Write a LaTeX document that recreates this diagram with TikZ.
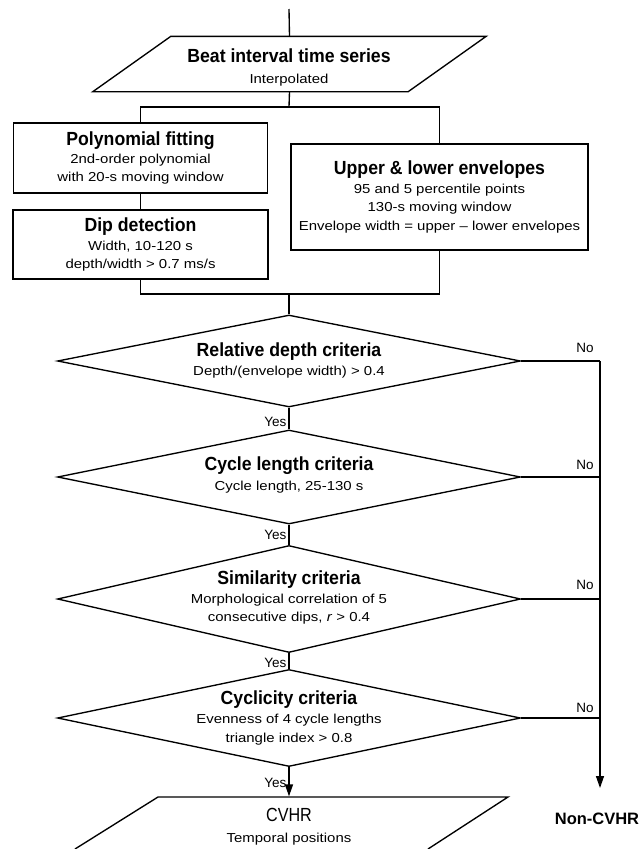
\documentclass[tikz,border=0pt]{standalone}
\usepackage{fontspec}
\setmainfont{Liberation Sans}
\newfontfamily\subfont[FakeStretch=1.15]{Liberation Sans}
\newfontfamily\ttlfont[FakeStretch=0.93]{Liberation Sans}
\newfontfamily\cvfont[FakeStretch=0.85]{Liberation Sans}
\usetikzlibrary{shapes.geometric,arrows.meta}
\begin{document}
\begin{tikzpicture}[x=1pt,y=-1pt,line width=1.35pt,
  ttl/.style={font=\ttlfont\bfseries\fontsize{19}{21}\selectfont,inner sep=0pt},
  sub/.style={font=\subfont\fontsize{13}{15}\selectfont,inner sep=0pt},
  box/.style={draw,rectangle,inner sep=0pt},
  dia/.style={draw,diamond,inner sep=0pt,minimum width=463pt},
  ghost/.style={rectangle,inner sep=0pt},
  lbl/.style={font=\fontsize{13.5}{15}\selectfont,inner sep=0pt},
  tip/.style={-{Triangle[width=8pt,length=12pt]}}]
\fill[white] (0,0) rectangle (640,849);
\useasboundingbox (0,0) rectangle (640,849);

% input parallelogram
\coordinate (top) at (289,9);
\node[ghost,minimum width=314pt,minimum height=54pt] (beat) at (289.5,64) {};
\draw ([xshift=39pt]beat.north west) -- ([xshift=39pt]beat.north east)
   -- ([xshift=-39pt]beat.south east) -- ([xshift=-39pt]beat.south west) -- cycle;
\node[ttl] (beatT) at (289,56) {Beat interval time series};
\node[sub] (beatS) at (289,80) {Interpolated};

% boxes
\node[box,minimum width=254pt,minimum height=70pt] (poly) at (140.5,158) {};
\node[ttl] (polyT) at (140.5,141) {Polynomial fitting};
\node[sub] (polyS1) at (140.5,160) {2nd-order polynomial};
\node[sub] (polyS2) at (140.5,178) {with 20-s moving window};

\node[box,minimum width=255pt,minimum height=69pt] (dip) at (140.5,244.5) {};
\node[ttl] (dipT) at (140.5,227) {Dip detection};
\node[sub] (dipS1) at (140.5,247) {Width, 10-120 s};
\node[sub] (dipS2) at (140.5,265) {depth/width > 0.7 ms/s};

\node[box,minimum width=297pt,minimum height=106pt] (upper) at (439.5,197) {};
\node[ttl] (upT) at (439.5,170) {Upper \& lower envelopes};
\node[sub] (upS1) at (439.5,190) {95 and 5 percentile points};
\node[sub] (upS2) at (439.5,208) {130-s moving window};
\node[sub] (upS3) at (439.5,227) {Envelope width = upper – lower envelopes};

\coordinate (br) at (289,107);
\coordinate (jn) at (289,294);
\draw (top) -- (beat.north);
\draw (beat.south) -- (br);
\draw (poly.north) |- (br) -| (upper.north);
\draw (poly.south) -- (dip.north);
\draw (dip.south) |- (jn) -| (upper.south);

% diamonds
\node[dia,minimum height=92pt] (d1) at (289,361) {};
\node[ttl] (d1T) at (289,352) {Relative depth criteria};
\node[sub] (d1S) at (289,372) {Depth/(envelope width) > 0.4};

\node[dia,minimum height=94pt] (d2) at (289,477) {};
\node[ttl] (d2T) at (289,466) {Cycle length criteria};
\node[sub] (d2S) at (289,487) {Cycle length, 25-130 s};

\node[dia,minimum height=107pt] (d3) at (289,599) {};
\node[ttl] (d3T) at (289,580) {Similarity criteria};
\node[sub] (d3S1) at (289,600) {Morphological correlation of 5};
\node[sub] (d3S2) at (289,618) {consecutive dips, \textit{r} > 0.4};

\node[dia,minimum height=97pt] (d4) at (289,718) {};
\node[ttl] (d4T) at (289,700) {Cyclicity criteria};
\node[sub] (d4S1) at (289,720) {Evenness of 4 cycle lengths};
\node[sub] (d4S2) at (289,739) {triangle index > 0.8};

\draw (jn) -- (d1.north);
\draw (d1.south) -- (d2.north);
\draw (d2.south) -- (d3.north);
\draw (d3.south) -- (d4.north);

\node[lbl,anchor=east] (y1) at (287,422) {Yes};
\node[lbl,anchor=east] (y2) at (287,535) {Yes};
\node[lbl,anchor=east] (y3) at (287,663) {Yes};
\node[lbl,anchor=east] (y4) at (287,783) {Yes};

% No branch
\coordinate (r1) at (600,361);
\coordinate (rend) at (600,788);
\draw (d1.east) -- (r1);
\draw[tip] (r1) -- (rend);
\draw (d2.east) -- (d2.east -| r1);
\draw (d3.east) -- (d3.east -| r1);
\draw (d4.east) -- (d4.east -| r1);
\node[lbl] (n1) at (585,348) {No};
\node[lbl] (n2) at (585,465) {No};
\node[lbl] (n3) at (585,585) {No};
\node[lbl] (n4) at (585,708) {No};
\node[font=\bfseries\fontsize{16.5}{19}\selectfont,inner sep=0pt] (nonc) at (597,819) {Non-CVHR};

% output parallelogram
\node[ghost,minimum width=350pt,minimum height=52pt] (cvhr) at (289,823) {};
\coordinate (c1) at (75,849);
\coordinate (c2) at (158,797);
\coordinate (c3) at (508,797);
\coordinate (c4) at (428,849);
\draw (c1) -- (c2) -- (c3) -- (c4);
\draw[tip] (d4.south) -- (cvhr.north);
\node[font=\cvfont\fontsize{19}{21}\selectfont,inner sep=0pt] (cvhrT) at (289,815) {CVHR};
\node[sub] (cvhrS) at (289,839) {Temporal positions};
\end{tikzpicture}
\end{document}
